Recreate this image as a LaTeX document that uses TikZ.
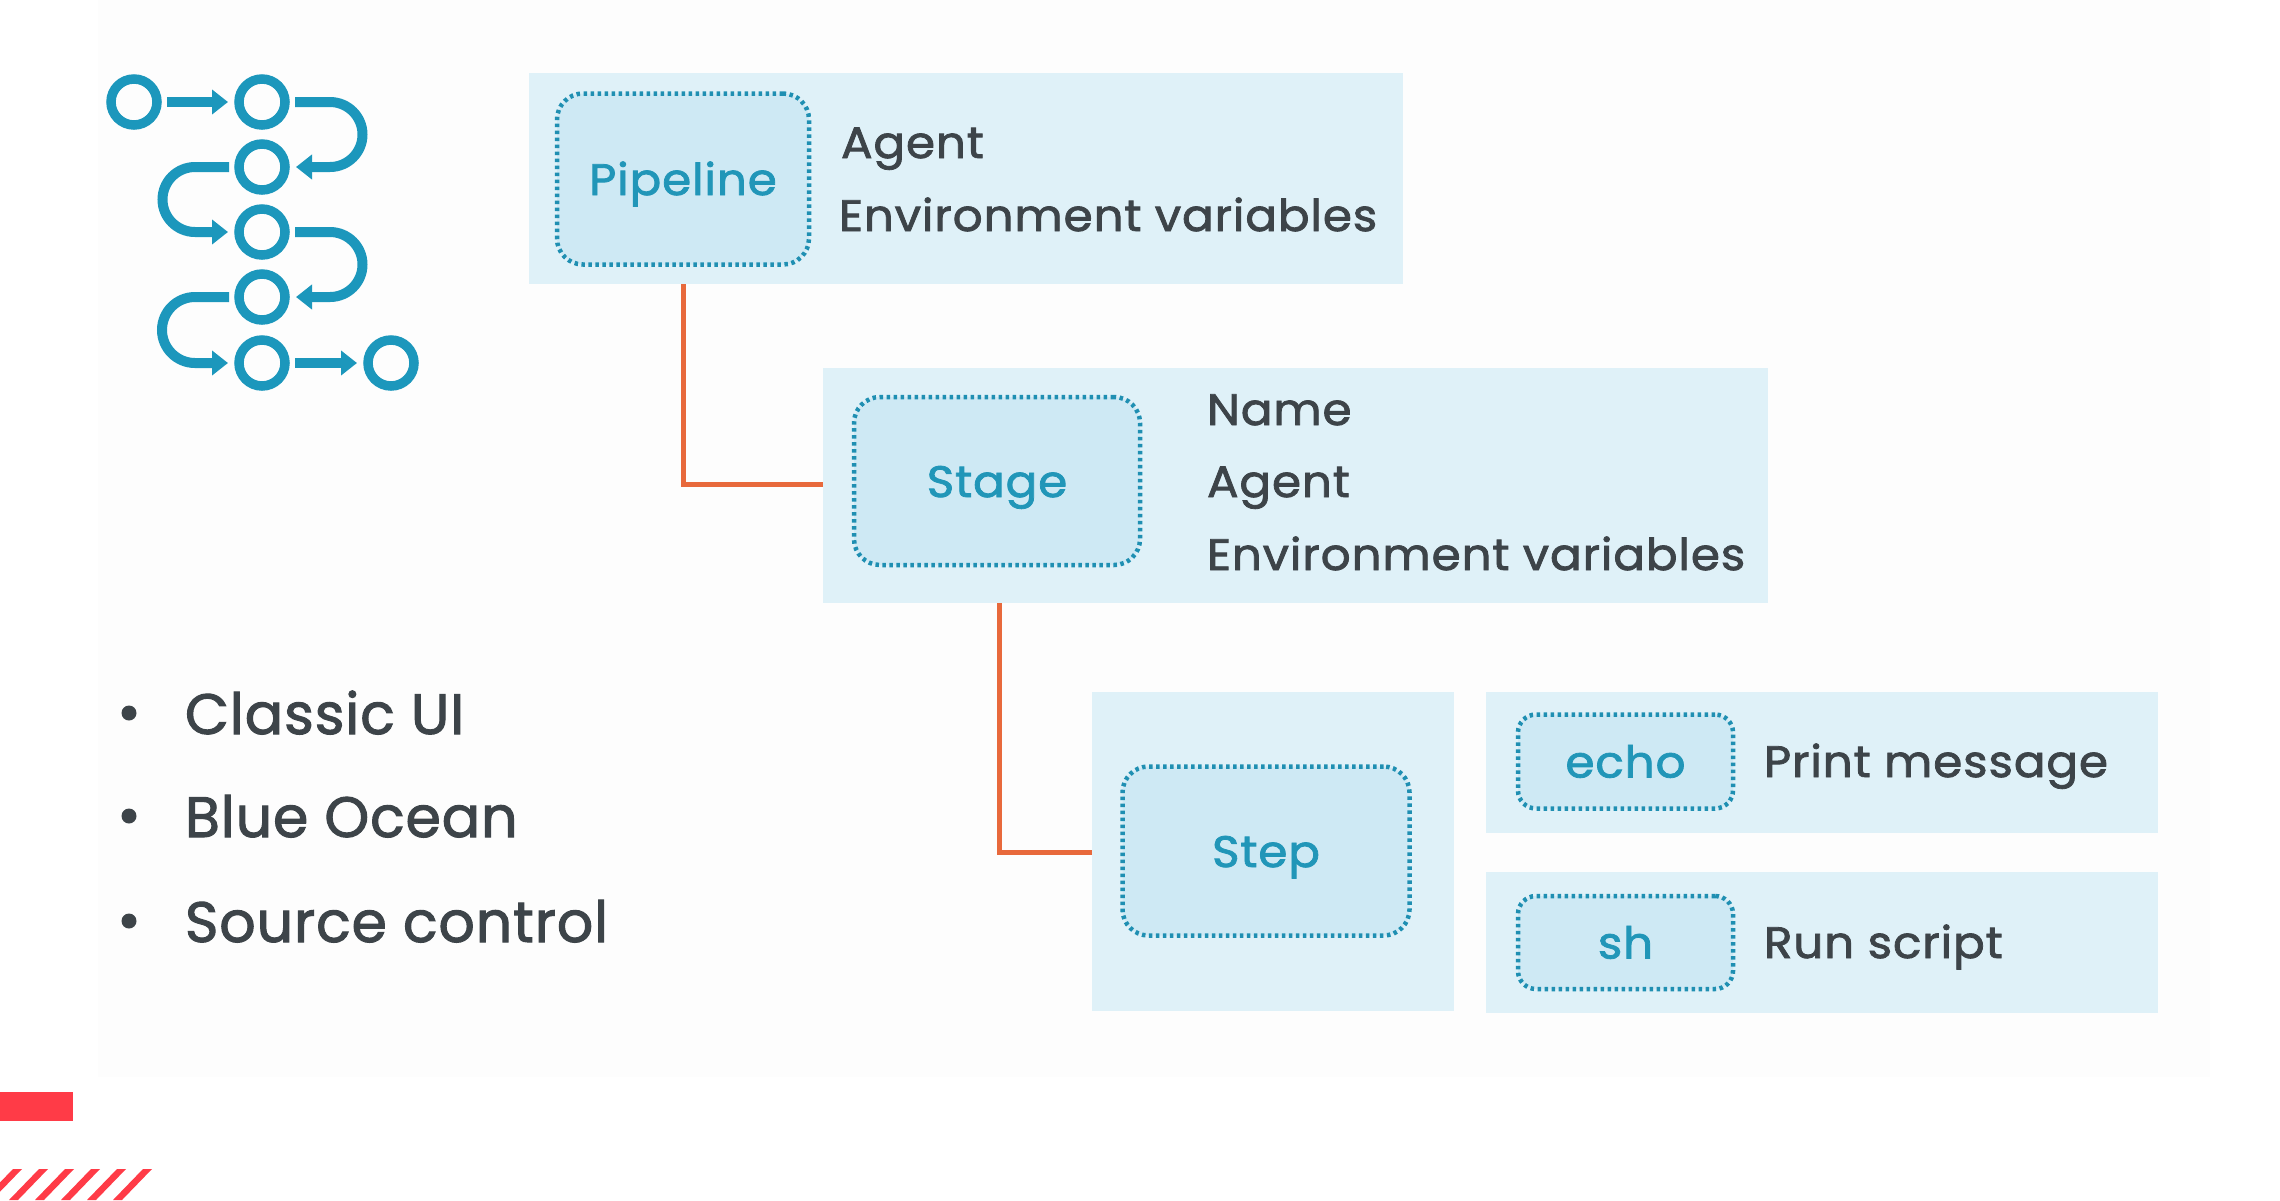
\documentclass[tikz,border=0pt]{standalone}
\usepackage{fontspec}
\setmainfont{Poppins}
\newfontfamily\labelfont{Poppins}[FakeBold=1.8,FakeStretch=1.065,LetterSpace=2]
\newfontfamily\listfont{Poppins}[FakeBold=1.8,FakeStretch=1.0,LetterSpace=1.5]
\usetikzlibrary{arrows.meta}
\definecolor{panelc}{HTML}{DFF1F8}
\definecolor{boxc}{HTML}{CEE9F4}
\definecolor{tealc}{HTML}{2196B8}
\definecolor{dotc}{HTML}{1F8FB2}
\definecolor{iconc}{HTML}{1C97BC}
\definecolor{darkc}{HTML}{3D4449}
\definecolor{linkc}{HTML}{E8693C}
\definecolor{redc}{HTML}{FF3B47}
\definecolor{bgc}{HTML}{FDFDFD}
\tikzset{
  panel/.style={fill=panelc,draw=none,inner sep=0pt,outer sep=0pt},
  dotbox/.style={fill=boxc,draw=dotc,line width=4.5pt,dash pattern=on 3.5pt off 3.5pt,rounded corners=26pt,inner sep=0pt,outer sep=0pt,text=tealc,text height=32pt,text depth=0pt,font=\labelfont\fontsize{44}{44}\selectfont},
  smalldot/.style={dotbox,rounded corners=18pt},
  info/.style={anchor=base west,text=darkc,inner sep=0pt,outer sep=0pt,font=\labelfont\fontsize{44}{44}\selectfont},
  bullet/.style={anchor=base west,text=darkc,inner sep=0pt,outer sep=0pt,font=\listfont\fontsize{57}{57}\selectfont},
  dotmark/.style={circle,fill=darkc,minimum size=15pt,inner sep=0pt,outer sep=0pt},
  link/.style={draw=linkc,line width=5pt,line join=miter},
  stage/.style={circle,draw=iconc,line width=9.5pt,minimum size=46pt,inner sep=0pt,outer sep=0pt},
  flow/.style={draw=iconc,line width=10pt,-{Triangle[length=16pt,width=24pt]},shorten <=10pt,shorten >=11pt},
}
\begin{document}
\begin{tikzpicture}[x=1pt,y=-1pt]
\useasboundingbox (0,0) rectangle (2280,1200);
\fill[white] (0,0) rectangle (2280,1200);
\fill[bgc] (98,0) rectangle (2210,1077);
% panels
\path[panel] (529,73) rectangle (1403,284);
\path[panel] (823,368) rectangle (1768,603);
\path[panel] (1092,692) rectangle (1454,1011);
\path[panel] (1486,692) rectangle (2158,833);
\path[panel] (1486,872) rectangle (2158,1013);
\coordinate (pb) at (683,284);
\coordinate (pe) at (823,484);
\coordinate (sb) at (999,603);
\coordinate (se) at (1092,852);
\draw[link] (pb) |- (pe);
\draw[link] (sb) |- (se);
% boxes
\node[dotbox,minimum width=252pt,minimum height=171pt] (pipeline) at (683,179) {Pipeline};
\node[dotbox,minimum width=286pt,minimum height=168pt] (stagebox) at (997,481) {Stage};
\node[dotbox,minimum width=287pt,minimum height=169pt] (stepbox) at (1266,851) {Step};
\node[smalldot,minimum width=215pt,minimum height=94pt] (echo) at (1625.5,761.5) {echo};
\node[smalldot,minimum width=215pt,minimum height=93pt] (sh) at (1625.5,942.5) {sh};
% texts
\node[info] (t1) at (841,158) {Agent};
\node[info] (t2) at (839,231) {Environment variables};
\node[info] (t3) at (1207,425) {Name};
\node[info] (t4) at (1207,497) {Agent};
\node[info] (t5) at (1207,570) {Environment variables};
\node[info] (t6) at (1764,777) {Print message};
\node[info] (t7) at (1764,958) {Run script};
\node[bullet] (b1) at (185,734) {Classic UI};
\node[bullet] (b2) at (185,837) {Blue Ocean};
\node[bullet] (b3) at (185,942) {Source control};
\node[dotmark] (d1) at (129,713) {};
\node[dotmark] (d2) at (129,816) {};
\node[dotmark] (d3) at (129,921) {};
% icon
\node[stage] (c1) at (134,102) {};
\node[stage] (c2) at (262,102) {};
\node[stage] (c3) at (262,167) {};
\node[stage] (c4) at (262,232) {};
\node[stage] (c5) at (262,297) {};
\node[stage] (c6) at (262,363) {};
\node[stage] (c7) at (391,363) {};
\draw[flow] (c1) -- (c2);
\draw[flow] (c2.east) -- +(45,0) arc[start angle=90,end angle=-90,radius=32.5pt] -- (c3.east);
\draw[flow] (c3.west) -- +(-44,0) arc[start angle=90,end angle=270,radius=32.5pt] -- (c4.west);
\draw[flow] (c4.east) -- +(45,0) arc[start angle=90,end angle=-90,radius=32.5pt] -- (c5.east);
\draw[flow] (c5.west) -- +(-44,0) arc[start angle=90,end angle=270,radius=33pt] -- (c6.west);
\draw[flow] (c6) -- (c7);
% red marks
\fill[redc] (0,1092) rectangle (73,1121);
\begin{scope}
\clip (0,1169) rectangle (2280,1200);
\foreach \k in {0,...,5}{
  \fill[redc] ({13+26*\k},1169) -- ({22+26*\k},1169) -- ({-8+26*\k},1200) -- ({-17+26*\k},1200) -- cycle;
}
\end{scope}
\end{tikzpicture}
\end{document}
